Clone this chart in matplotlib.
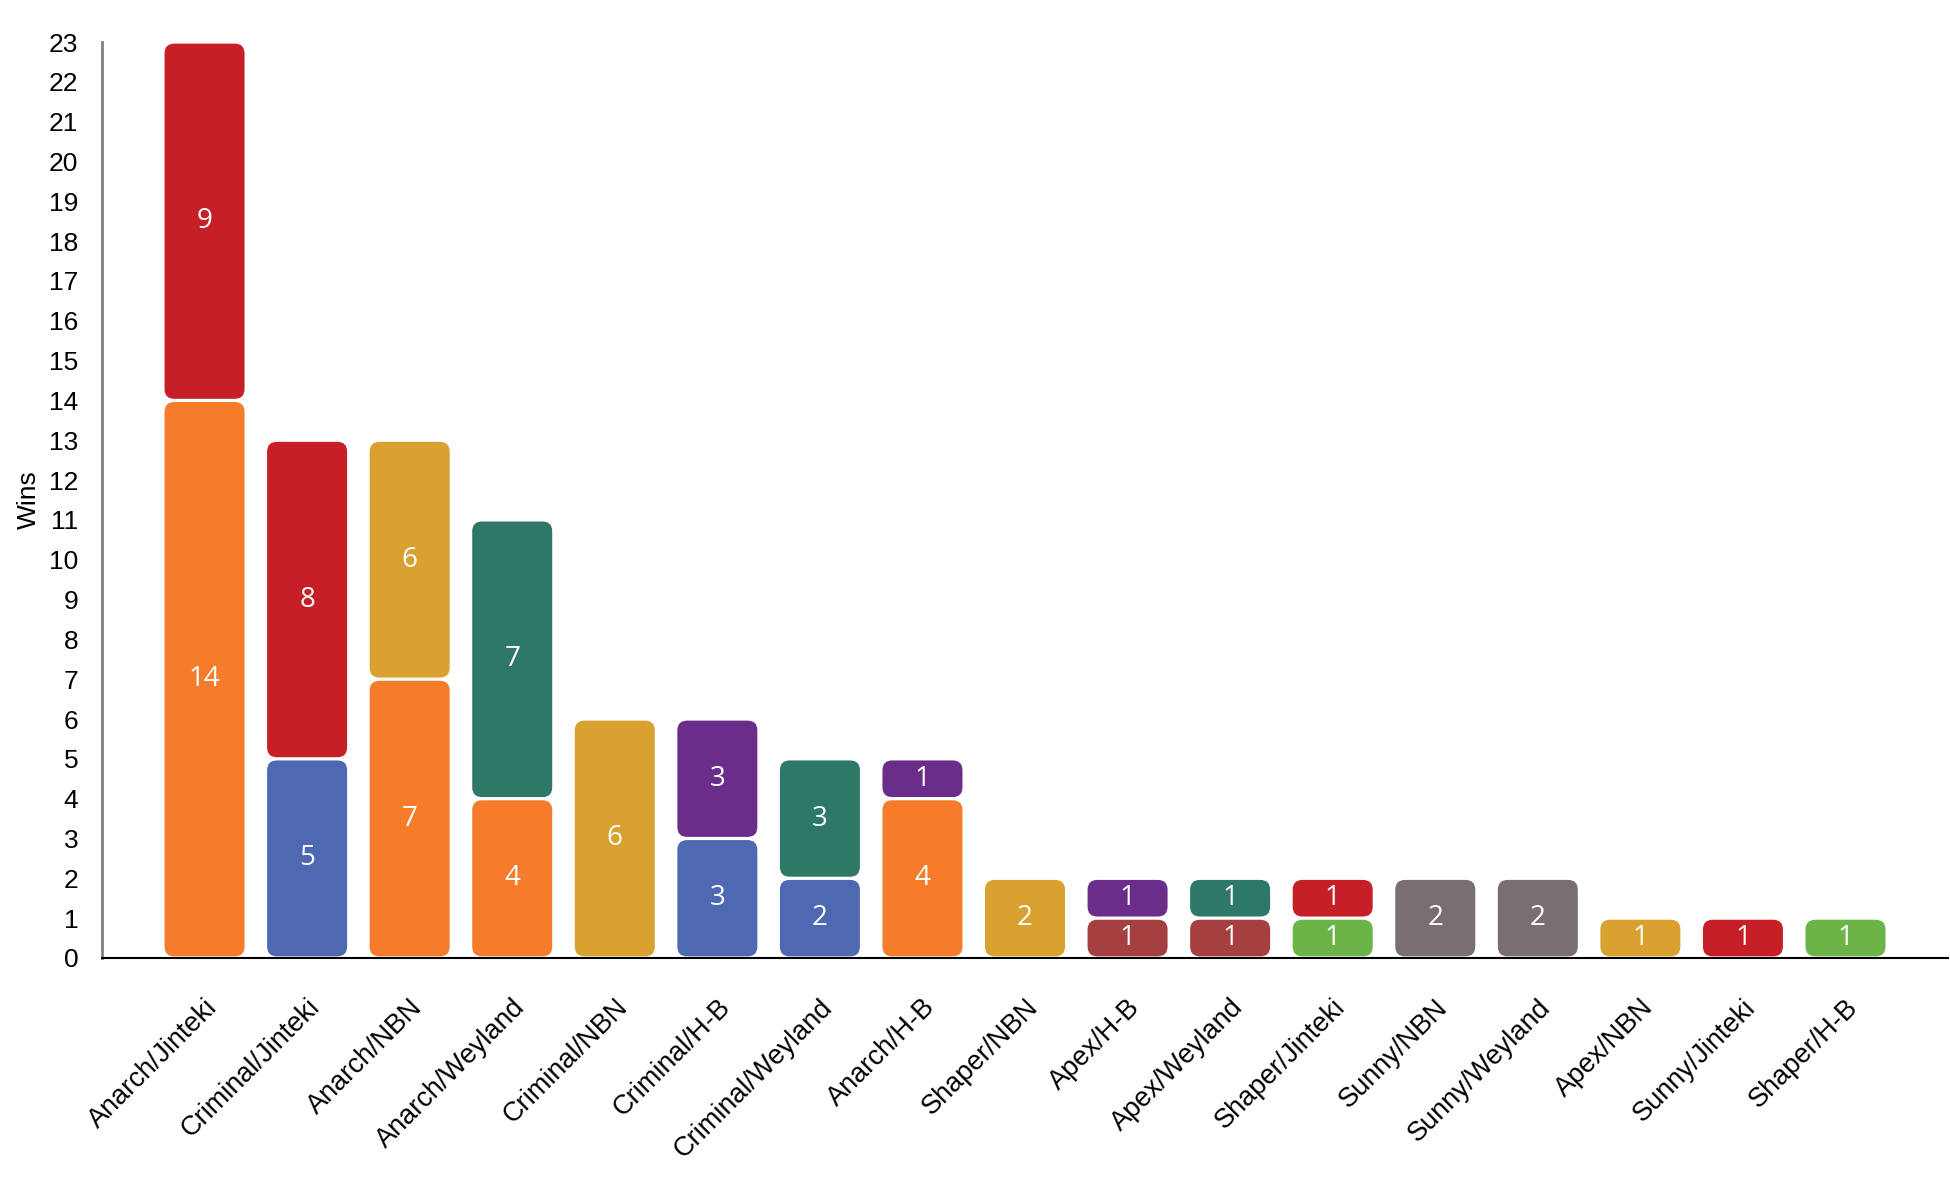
import matplotlib.pyplot as plt
from matplotlib.patches import FancyBboxPatch
from matplotlib.transforms import ScaledTranslation
import numpy as np

matchups = ["Anarch/Jinteki", "Criminal/Jinteki", "Anarch/NBN", "Anarch/Weyland",
            "Criminal/NBN", "Criminal/H-B", "Criminal/Weyland", "Anarch/H-B",
            "Shaper/NBN", "Apex/H-B", "Apex/Weyland", "Shaper/Jinteki",
            "Sunny/NBN", "Sunny/Weyland", "Apex/NBN", "Sunny/Jinteki", "Shaper/H-B"]
runner_wins = [14, 5, 7, 4, 0, 3, 2, 4, 0, 1, 1, 1, 2, 2, 0, 0, 1]
corp_wins = [9, 8, 6, 7, 6, 3, 3, 1, 2, 1, 1, 1, 0, 0, 1, 1, 0]

faction_colour = {
    "Anarch": "#f47c2a",
    "Criminal": "#4e68b1",
    "Shaper": "#6bb447",
    "Apex": "#a63f3f",
    "Sunny": "#7a6f70",
    "Jinteki": "#c61f27",
    "NBN": "#d8a130",
    "Weyland": "#2e7868",
    "H-B": "#6a2d89",
}

runner_colours = [faction_colour[m.split("/")[0]] for m in matchups]
corp_colours = [faction_colour[m.split("/")[1]] for m in matchups]

fig = plt.figure(figsize=(19.5, 12), dpi=100)
ax = fig.add_axes([0.0523, 0.2017, 0.9467, 0.7633])

x = np.arange(len(matchups))
width = 0.78
y_px = (958 - 42) / 23.  # pixels per win
x_px = 1846 / 18.        # pixels per bar slot
gap = 1.6 / y_px
label_font = ["Open Sans", "DejaVu Sans"]


def rounded_bars(bars, colours, values):
    for rect, col, v in zip(bars, colours, values):
        rect.remove()
        if v == 0:
            continue
        x0, y0 = rect.get_x(), rect.get_y()
        w, h = rect.get_width(), rect.get_height()
        patch = FancyBboxPatch((x0, y0 + gap), w, h - 2 * gap,
                               boxstyle="round,pad=0,rounding_size=0.095",
                               mutation_aspect=x_px / y_px,
                               facecolor=col, edgecolor="none", zorder=2)
        ax.add_patch(patch)
        ax.text(x0 + w / 2, y0 + h / 2, str(v), ha="center", va="center",
                color="white", fontsize=20, family=label_font, zorder=3)


b1 = ax.bar(x, runner_wins, width=width)
rounded_bars(b1, runner_colours, runner_wins)
b2 = ax.bar(x, corp_wins, width=width, bottom=runner_wins)
rounded_bars(b2, corp_colours, corp_wins)

ax.set_xlim(-1, len(matchups))
ax.set_ylim(0, 23)
ax.set_yticks(range(0, 24))
ax.set_xticks(x)
ax.tick_params(axis="y", length=0, pad=17)
ax.tick_params(axis="x", length=0, pad=26)
ax.set_xticklabels(matchups, rotation=45, ha="right", rotation_mode="default",
                   fontsize=19.5, family="Liberation Sans")
for lab in ax.get_yticklabels():
    lab.set_fontsize(19)
    lab.set_family("Liberation Sans")
ax.set_ylabel("Wins", fontsize=19, family="Liberation Sans", labelpad=6)

# nudge the rotated labels right so they end past the bar centre
shift = ScaledTranslation(18 / 100., 0, fig.dpi_scale_trans)
for lab in ax.xaxis.get_majorticklabels():
    lab.set_transform(lab.get_transform() + shift)

ax.spines["top"].set_visible(False)
ax.spines["right"].set_visible(False)
ax.spines["left"].set_color("#808080")
ax.spines["left"].set_linewidth(2)
ax.spines["bottom"].set_color("black")
ax.spines["bottom"].set_linewidth(1.5)

fig.savefig("out.png", dpi=100)
